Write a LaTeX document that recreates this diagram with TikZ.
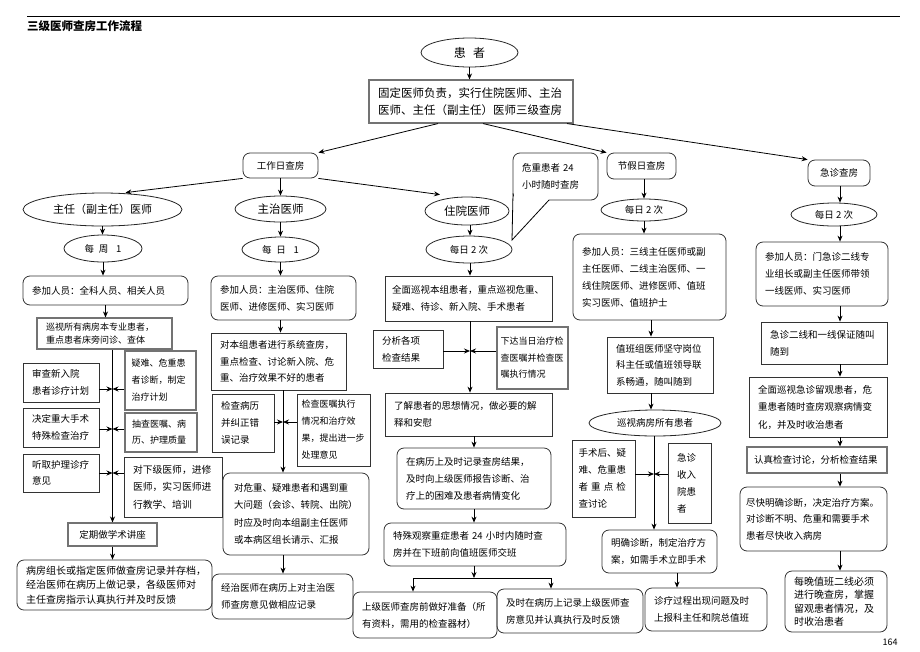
\documentclass[tikz,border=0pt]{standalone}
\usepackage{fontspec}
\setmainfont{Noto Sans CJK SC}
\usetikzlibrary{arrows.meta,shapes.geometric}
\newcommand\mybox[7][]{%
  \pgfmathsetmacro\bxw{#5-#3}%
  \pgfmathsetmacro\bxh{#6-#4}%
  \pgfmathsetmacro\bxt{#5-#3-18}%
  \pgfmathsetmacro\bxcx{(#3+#5)/2}%
  \pgfmathsetmacro\bxcy{(#4+#6)/2}%
  \node[bxs,minimum width=\bxw pt,minimum height=\bxh pt,text width=\bxt pt,#1] (#2) at (\bxcx,\bxcy) {#7};%
}
\newcommand\myell[7][]{%
  \pgfmathsetmacro\bxw{#5-#3}%
  \pgfmathsetmacro\bxh{#6-#4}%
  \pgfmathsetmacro\bxcx{(#3+#5)/2}%
  \pgfmathsetmacro\bxcy{(#4+#6)/2}%
  \node[ell,minimum width=\bxw pt,minimum height=\bxh pt,#1] (#2) at (\bxcx,\bxcy) {#7};%
}
\begin{document}
\begin{tikzpicture}[x=1pt,y=-1pt,
  arr/.style={-{Stealth[length=6pt,width=5pt]},line width=0.8pt,draw=black},
  ln/.style={line width=0.8pt,draw=black},
  bxs/.style={draw=black!80,line width=0.8pt,inner sep=0pt,align=left,font=\fontsize{9.5}{17}\selectfont},
  rbox/.style={rounded corners=7pt},
  gbox/.style={draw=black!55,line width=1.1pt},
  ell/.style={draw=black!85,line width=0.8pt,ellipse,inner sep=0pt,align=center,font=\fontsize{9.5}{12}\selectfont},
]
\fill[white] (0,0) rectangle (920,651);
\useasboundingbox (0,0) rectangle (920,651);

% header
\draw[line width=0.7pt] (27,16) -- (900,16);
\node[anchor=west,inner sep=0pt,font=\fontsize{11.5}{12}\selectfont\bfseries] (title) at (27,26) {三级医师查房工作流程};
\node[inner sep=0pt,font=\fontsize{9}{10}\selectfont] (pg) at (890,642) {164};

% top
\myell[font=\fontsize{12}{14}\selectfont]{pt}{421}{38}{518}{67}{患\hspace{0.6em}者}
\mybox[gbox,font=\fontsize{11.5}{17}\selectfont]{main}{369}{80}{573}{123}{固定医师负责，实行住院医师、主治\\医师、主任（副主任）医师三级查房}
\draw[arr] (pt.south) -- (pt.south |- main.north);

% second level
\mybox[rbox,align=center]{gzr}{243}{153}{318}{178}{工作日查房}
\mybox[rbox,align=center]{jjr}{607}{153}{676}{179}{节假日查房}
\mybox[rbox,align=center]{jzr}{808}{160}{870}{186}{急诊查房}
\draw[arr] ([xshift=-33pt]main.south) -- (gzr.north east);
\draw[arr] ([xshift=12pt]main.south) -- (jjr.north west);
\draw[arr] ([xshift=96pt]main.south) -- (jzr.north west);

% callout
\mybox[rbox]{cb}{513}{153}{598}{200}{危重患者 24\\小时随时查房}
\fill[white] (513.8,193.5) rectangle (549,201.5);
\draw[ln] (513,193.5) -- (512,240) -- (549,200);

% ellipses
\myell[font=\fontsize{11}{13}\selectfont]{zr}{23}{193}{182}{226}{主任（副主任）医师}
\myell{mz}{64}{235}{142}{262}{每\hspace{0.5em}周\hspace{0.8em}1}
\myell[font=\fontsize{11.5}{13}\selectfont]{zz}{235}{196}{326}{222}{主治医师}
\myell{m1}{242}{237}{319}{262}{每\hspace{0.5em}日\hspace{0.8em}1}
\myell[font=\fontsize{11.5}{13}\selectfont]{zy}{425}{197}{509}{225}{住院医师}
\myell{z2}{426}{236}{512}{263}{每日 2 次}
\myell{j2}{601}{199}{687}{221}{每日 2 次}
\myell{e2}{791}{203}{877}{226}{每日 2 次}

\draw[arr] (gzr.south west) -- ([xshift=23pt]zr.north);
\draw[arr] (gzr.south) -- (zz.north);
\draw[arr] (gzr.south east) -- ([xshift=-27pt,yshift=2pt]zy.north);

% junction coordinates
\coordinate (r1) at (112.5,389);
\coordinate (r2) at (112.5,429);
\coordinate (r3) at (112.5,473);
\coordinate (r4) at (283,422);
\coordinate (r5) at (470,351);
\coordinate (r6) at (654,474);
\coordinate (sp) at (474,578);
\coordinate (sl) at (413,578);
\coordinate (sr) at (551,578);
\coordinate (c4) at (651,0);
\coordinate (c5) at (677,0);
\coordinate (c6) at (840,0);

% column 1
\mybox[rbox]{cj1}{23}{276}{188}{305}{参加人员：全科人员、相关人员}
\mybox[gbox,font=\fontsize{9}{12.5}\selectfont]{xs}{37}{318}{172}{349}{巡视所有病房本专业患者，\\重点患者床旁问诊、查体}
\mybox{sc}{23}{363}{99}{402}{审查新入院\\患者诊疗计划}
\mybox[gbox,font=\fontsize{9}{17}\selectfont,text width=58pt]{yn}{125}{351}{196}{410}{疑难、危重患\\者诊断，制定\\治疗计划}
\mybox{jd}{23}{408}{99}{447}{决定重大手术\\特殊检查治疗}
\mybox[gbox,font=\fontsize{9}{16}\selectfont,text width=58pt]{cc}{125}{413}{197}{452}{抽查医嘱、病\\历、护理质量}
\mybox[font=\fontsize{9.5}{16}\selectfont]{tq}{23}{454}{99}{492}{听取护理诊疗\\意见}
\mybox[font=\fontsize{9.8}{17.5}\selectfont]{dx}{124}{457}{222}{517}{对下级医师，进修\\医师，实习医师进\\行教学、培训}
\mybox[gbox,align=center]{dq}{68}{523}{157}{546}{定期做学术讲座}
\mybox[rbox,font=\fontsize{10}{14.5}\selectfont]{bf}{17}{560}{212}{610}{病房组长或指定医师做查房记录并存档，\\经治医师在病历上做记录，各级医师对\\主任查房指示认真执行并及时反馈}

\draw[arr] (zr.south) -- (zr.south |- mz.north);
\draw[arr] (mz.south) -- (mz.south |- cj1.north);
\draw[arr] (cj1.south) -- (cj1.south |- xs.north);
\draw[arr] (dq.north |- xs.south) -- (dq.north);
\draw[arr] (sc.east |- r1) -- (r1);
\draw[arr] (yn.west |- r1) -- (r1);
\draw[arr] (jd.east |- r2) -- (r2);
\draw[arr] (cc.west |- r2) -- (r2);
\draw[arr] (tq.east |- r3) -- (r3);
\draw[arr] (dx.west |- r3) -- (r3);
\draw[arr] (dq.south) -- (dq.south |- bf.north);

% column 2
\mybox[rbox]{cj2}{211}{276}{356}{320}{参加人员：主治医师、住院\\医师、进修医师、实习医师}
\mybox[font=\fontsize{9.5}{16.5}\selectfont]{db}{211}{333}{346}{390}{对本组患者进行系统查房，\\重点检查、讨论新入院、危\\重、治疗效果不好的患者}
\mybox{jb}{212}{394}{274}{452}{检查病历\\并纠正错\\误记录}
\mybox[font=\fontsize{9}{17}\selectfont,text width=64pt]{jy}{297}{394}{370}{466}{检查医嘱执行\\情况和治疗效\\果，提出进一步\\处理意见}
\mybox[rbox,font=\fontsize{9.5}{17.5}\selectfont,text width=124pt]{dw}{223}{473}{369}{555}{对危重、疑难患者和遇到重\\大问题（会诊、转院、出院）\\时应及时向本组副主任医师\\或本病区组长请示、汇报}
\mybox[rbox]{jz}{212}{574}{353}{619}{经治医师在病历上对主治医\\师查房意见做相应记录}

\draw[arr] (zz.south) -- (zz.south |- m1.north);
\draw[arr] (m1.south) -- (m1.south |- cj2.north);
\draw[arr] (cj2.south -| m1.south) -- (db.north -| m1.south);
\draw[arr] (r4 |- db.south) -- (r4 |- dw.north);
\draw[arr] (jb.east |- r4) -- (r4);
\draw[arr] (jy.west |- r4) -- (r4);
\draw[arr] (r4 |- dw.south) -- (r4 |- jz.north);

% column 3
\mybox[text width=153pt,font=\fontsize{9.5}{17.5}\selectfont]{qm}{385}{276}{552}{321}{全面巡视本组患者，重点巡视危重、\\疑难、待诊、新入院、手术患者}
\mybox{fx}{373}{330}{443}{368}{分析各项\\检查结果}
\mybox[gbox,font=\fontsize{9}{16.5}\selectfont,text width=64pt]{xd}{497}{327}{568}{389}{下达当日治疗检\\查医嘱并检查医\\嘱执行情况}
\mybox{lj}{385}{393}{552}{436}{了解患者的思想情况，做必要的解\\释和安慰}
\mybox[rbox]{zb}{397}{448}{551}{509}{在病历上及时记录查房结果，\\及时向上级医师报告诊断、治\\疗上的困难及患者病情变化}
\mybox[rbox,font=\fontsize{9.5}{16.5}\selectfont]{ts}{384}{523}{566}{566}{特殊观察重症患者 24 小时内随时查\\房并在下班前向值班医师交班}
\mybox[rbox]{sj}{353}{592}{497}{638}{上级医师查房前做好准备（所\\有资料，需用的检查器材）}
\mybox[rbox]{js}{497}{589}{643}{633}{及时在病历上记录上级医师查\\房意见并认真执行及时反馈}

\draw[arr] (r5 |- zy.south) -- (r5 |- z2.north);
\draw[arr] (r5 |- z2.south) -- (r5 |- qm.north);
\draw[arr] (r5 |- qm.south) -- (r5 |- lj.north);
\draw[arr] (fx.east |- r5) -- (r5);
\draw[arr] (xd.west |- r5) -- (r5);
\draw[arr] (sp |- lj.south) -- (sp |- zb.north);
\draw[arr] (sp |- zb.south) -- (sp |- ts.north);
\draw[arr] (sp |- ts.south) -- (sp);
\draw[ln] (sl) -- (sr);
\draw[arr] (sl) -- (sl |- sj.north);
\draw[arr] (sr) -- (sr |- js.north);

% column 4
\mybox[rbox]{cj4}{573}{234}{726}{320}{参加人员：三线主任医师或副\\主任医师、二线主治医师、一\\线住院医师、进修医师、值班\\实习医师、值班护士}
\mybox[font=\fontsize{9.5}{16.5}\selectfont]{zbz}{607}{337}{713}{393}{值班组医师坚守岗位\\科主任或值班领导联\\系畅通，随叫随到}
\myell{xb}{589}{410}{721}{436}{巡视病房所有患者}
\mybox[text width=50pt]{ss}{572}{440}{635}{517}{手术后、疑\\难、危重患\\者\ 重\ 点\ 检\\查讨论}
\mybox{jzs}{668}{443}{711}{523}{急诊\\收入\\院患\\者}
\mybox[rbox,font=\fontsize{9.5}{17.5}\selectfont]{mq}{602}{530}{717}{573}{明确诊断，制定治疗方\\案，如需手术立即手术}
\mybox[rbox,font=\fontsize{9.5}{16.5}\selectfont]{zl}{645}{588}{767}{631}{诊疗过程出现问题及时\\上报科主任和院总值班}

\draw[arr] (jjr.south -| j2.north) -- (j2.north);
\draw[arr] (j2.south) -- (j2.south |- cj4.north);
\draw[arr] (c4 |- cj4.south) -- (c4 |- zbz.north);
\draw[arr] (c4 |- zbz.south) -- (c4 |- xb.north);
\draw[arr] (r6 |- xb.south) -- (r6 |- mq.north);
\draw[arr] (ss.east |- r6) -- (r6);
\draw[arr] (jzs.west |- r6) -- (r6);
\draw[arr] (c5 |- mq.south) -- (c5 |- zl.north);

% column 5
\mybox[rbox]{cj5}{756}{242}{888}{306}{参加人员：门急诊二线专\\业组长或副主任医师带领\\一线医师、实习医师}
\mybox{jz2}{761}{322}{887}{364}{急诊二线和一线保证随叫\\随到}
\mybox[font=\fontsize{9.5}{17.5}\selectfont]{qmj}{749}{377}{887}{437}{全面巡视急诊留观患者，危\\重患者随时查房观察病情变\\化，并及时收治患者}
\mybox[gbox,text width=126pt]{rz}{747}{447}{887}{473}{认真检查讨论，分析检查结果}
\mybox[rbox,text width=135pt,font=\fontsize{9.5}{16.5}\selectfont]{jk}{740}{487}{887}{551}{尽快明确诊断，决定治疗方案。\\对诊断不明、危重和需要手术\\患者尽快收入病房}
\mybox[rbox,font=\fontsize{10}{13.5}\selectfont]{mw}{785}{571}{887}{632}{每晚值班二线必须\\进行晚查房，掌握\\留观患者情况，及\\时收治患者}

\draw[arr] (c6 |- jzr.south) -- (c6 |- e2.north);
\draw[arr] (c6 |- e2.south) -- (c6 |- cj5.north);
\draw[arr] (c6 |- cj5.south) -- (c6 |- jz2.north);
\draw[arr] (c6 |- jz2.south) -- (c6 |- qmj.north);
\draw[arr] (c6 |- qmj.south) -- (c6 |- rz.north);
\draw[arr] (c6 |- rz.south) -- (c6 |- jk.north);
\draw[arr] (c6 |- jk.south) -- (c6 |- mw.north);
\end{tikzpicture}
\end{document}
